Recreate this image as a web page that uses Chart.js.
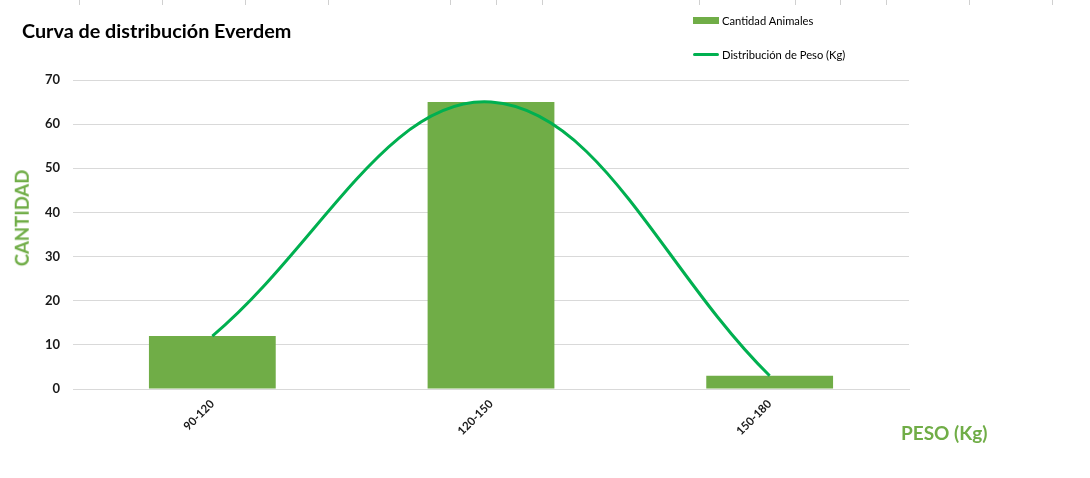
<!DOCTYPE html>
<html>
<head>
<meta charset="utf-8">
<script src="https://cdn.jsdelivr.net/npm/chart.js@4/dist/chart.umd.min.js"></script>
<style>
  html, body { margin: 0; padding: 0; background: #ffffff; }
  #wrap { position: relative; width: 1090px; height: 478px; overflow: hidden; font-family: Lato, "Open Sans", sans-serif; }
  #wrap canvas { position: absolute; left: 0; top: 0; }
  .txt { position: absolute; white-space: nowrap; line-height: 1; }
  #title { left: 22px; top: 21px; font-size: 19.8px; font-weight: bold; color: #000; }
  #ytitle { left: 21.5px; top: 218px; font-size: 18.5px; font-weight: bold; color: #70AD47; transform: translate(-50%, -50%) rotate(-90deg); }
  #xtitle { left: 901px; top: 423px; font-size: 19px; font-weight: bold; color: #70AD47; }
  .leg { position: absolute; left: 693px; font-size: 11.2px; color: #000; display: flex; align-items: center; white-space: nowrap; }
  .leg .sw { width: 26px; margin-right: 3px; }
  .tick { position: absolute; top: 0; width: 1px; height: 5px; background: #d0d0d0; }
</style>
</head>
<body>
<div id="wrap">
  <canvas id="c" width="1090" height="478"></canvas>
  <div id="title" class="txt">Curva de distribución Everdem</div>
  <div id="ytitle" class="txt">CANTIDAD</div>
  <div id="xtitle" class="txt">PESO (Kg)</div>
  <div class="leg" style="top:14px;"><span class="sw" style="height:7px;background:#70AD47;"></span><span id="leg1"></span></div>
  <div class="leg" style="top:48px;"><span class="sw" style="height:3px;background:#00B050;border-radius:2px;"></span><span id="leg2"></span></div>
</div>
<script>
const categories = ["90-120", "120-150", "150-180"];
const cantidadAnimales = [12, 65, 3];
const distribucionPeso = [12, 65, 3];
const seriesNames = ["Cantidad Animales", "Distribución de Peso (Kg)"];
const yTicks = [0, 10, 20, 30, 40, 50, 60, 70];
const sheetLines = [79, 162, 245, 328, 450, 496, 542, 699, 795, 840, 886, 969, 1052];

document.getElementById('leg1').textContent = seriesNames[0];
document.getElementById('leg2').textContent = seriesNames[1];
const wrap = document.getElementById('wrap');
sheetLines.forEach(x => {
  const d = document.createElement('div');
  d.className = 'tick';
  d.style.left = x + 'px';
  wrap.appendChild(d);
});

const ctx = document.getElementById('c');
new Chart(ctx, {
  data: {
    labels: categories,
    datasets: [
      {
        type: 'line',
        label: seriesNames[1],
        data: distribucionPeso,
        borderColor: '#00B050',
        borderWidth: 3,
        pointRadius: 0,
        tension: 0.38,
        fill: false,
        order: 0
      },
      {
        type: 'bar',
        label: seriesNames[0],
        data: cantidadAnimales,
        backgroundColor: '#70AD47',
        borderWidth: 0,
        barPercentage: 0.455,
        categoryPercentage: 1.0,
        order: 1
      }
    ]
  },
  options: {
    responsive: false,
    animation: false,
    devicePixelRatio: 1,
    layout: { padding: { left: 0, right: 181, top: 80, bottom: 0 } },
    plugins: {
      legend: { display: false },
      title: { display: false },
      tooltip: { enabled: false }
    },
    scales: {
      x: {
        grid: { display: false, drawTicks: false },
        border: { display: true, color: '#d9d9d9', width: 1 },
        ticks: {
          minRotation: 45,
          maxRotation: 45,
          padding: 8,
          color: '#1a1a1a',
          font: { family: 'Lato', size: 11.5, weight: 'bold' }
        },
        afterFit: (s) => { s.height = 89; }
      },
      y: {
        min: 0,
        max: 70,
        afterBuildTicks: (s) => { s.ticks = yTicks.map(v => ({ value: v })); },
        grid: { color: '#d9d9d9', lineWidth: 1, drawTicks: false },
        border: { display: false },
        ticks: {
          padding: 13,
          color: '#1a1a1a',
          font: { family: 'Lato', size: 13, weight: 'bold' }
        },
        afterFit: (s) => { s.width = 73; }
      }
    }
  }
});
</script>
</body>
</html>
